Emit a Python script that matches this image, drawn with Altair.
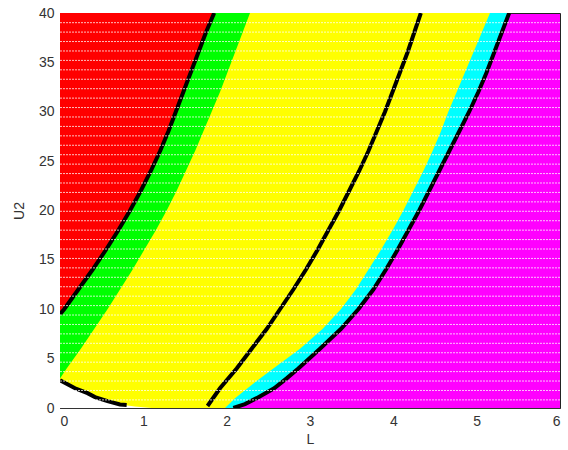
import altair as alt
import pandas as pd

# Boundary curves: L position at given U2
b1_y = [9.5, 10, 12, 14, 16, 18, 20, 22, 24, 26, 28, 30, 32, 34, 36, 38, 40]
b1_x = [0.0, 0.05, 0.22, 0.39, 0.55, 0.70, 0.84, 0.97, 1.09, 1.20, 1.30, 1.39, 1.48, 1.57, 1.66, 1.75, 1.85]

b2_y = [3, 4, 6, 8, 10, 12, 14, 16, 18, 20, 22, 24, 26, 28, 30, 32, 34, 36, 38, 40]
b2_x = [0.0, 0.08, 0.25, 0.41, 0.57, 0.72, 0.87, 1.01, 1.15, 1.28, 1.40, 1.51, 1.62, 1.72, 1.82, 1.92, 2.01, 2.10, 2.19, 2.28]

b3_y = [0.2, 2, 4, 6, 8, 10, 12, 14, 16, 18, 20, 22, 24, 26, 28, 30, 32, 34, 36, 38, 40]
b3_x = [1.77, 1.92, 2.12, 2.30, 2.48, 2.64, 2.80, 2.95, 3.09, 3.22, 3.35, 3.47, 3.59, 3.70, 3.80, 3.90, 3.99, 4.08, 4.17, 4.25, 4.33]

b4_y = [0, 1, 2, 3, 4, 6, 8, 10, 12, 14, 16, 18, 20, 22, 24, 26, 28, 30, 32, 34, 36, 38, 40]
b4_x = [1.98, 2.10, 2.25, 2.40, 2.56, 2.88, 3.15, 3.37, 3.55, 3.70, 3.85, 3.99, 4.12, 4.24, 4.36, 4.47, 4.57, 4.66, 4.76, 4.86, 4.96, 5.06, 5.16]

b5_y = [0, 0.4, 1, 2, 3, 4, 6, 8, 10, 12, 14, 16, 18, 20, 22, 24, 26, 28, 30, 32, 34, 36, 38, 40]
b5_x = [2.08, 2.22, 2.36, 2.57, 2.72, 2.86, 3.12, 3.37, 3.58, 3.76, 3.91, 4.05, 4.18, 4.31, 4.43, 4.55, 4.67, 4.79, 4.91, 5.02, 5.12, 5.21, 5.30, 5.39]

white_y = [0, 0.15, 0.35, 0.7, 1.1, 1.5, 2.0, 2.8]
white_x = [1.10, 0.90, 0.72, 0.57, 0.42, 0.33, 0.18, 0.0]

low_y = [2.8, 2.0, 1.5, 1.1, 0.7, 0.35, 0.3]
low_x = [0.0, 0.18, 0.33, 0.42, 0.57, 0.72, 0.80]

x_ticks = [0, 1, 2, 3, 4, 5, 6]
y_ticks = [0, 5, 10, 15, 20, 25, 30, 35, 40]

# marker-row gaps (texture of the sampled grid)
row_step = 0.955
row_gaps = [round(39.02 - row_step * k, 3) for k in range(41)]

FONT = "Liberation Sans"
xscale = alt.Scale(domain=[0, 6], nice=False, zero=False)
yscale = alt.Scale(domain=[0, 40], nice=False, zero=False)
xaxis = alt.Axis(values=x_ticks, format="d", grid=False, ticks=False, labelPadding=6,
                 titlePadding=4, domainColor="#333")
yaxis = alt.Axis(values=y_ticks, format="d", grid=False, ticks=False, labelPadding=6,
                 titlePadding=12, domainColor="#333")


def frame(ys, xs):
    return pd.DataFrame({"y": ys, "x": xs, "x0": [0.0] * len(ys), "i": list(range(len(ys)))})


def X():
    return alt.X("x:Q", scale=xscale, axis=xaxis, title="L")


def Y():
    return alt.Y("y:Q", scale=yscale, axis=yaxis, title="U2")


def region(ys, xs, color):
    return alt.Chart(frame(ys, xs)).mark_area(orient="horizontal", color=color, clip=True).encode(
        y=Y(), x=X(), x2="x0:Q")


def curve(ys, xs):
    return alt.Chart(frame(ys, xs)).mark_line(color="black", strokeWidth=4, clip=True).encode(
        y=Y(), x=X(), order="i:Q")


cyan = region(b5_y, b5_x, "#00FFFF")
yellow = region(b4_y, b4_x, "#FFFF00")
green = region(b2_y, b2_x, "#00FF00")
red = region(b1_y, b1_x, "#FF0000")
white = region(white_y, white_x, "#FFFFFF")

gaps = alt.Chart(pd.DataFrame({"y": row_gaps})).mark_rule(
    color="white", strokeWidth=1, strokeDash=[2, 1], opacity=0.75, clip=True
).encode(y=Y(), x=alt.value(0), x2=alt.value(500))

chart = alt.layer(
    cyan, yellow, green, red, white,
    curve(b1_y, b1_x), curve(b3_y, b3_x), curve(b5_y, b5_x), curve(low_y, low_x),
    gaps,
).properties(
    width=500, height=395,
    autosize=alt.AutoSizeParams(type="none"),
    padding={"left": 60, "top": 13, "right": 8, "bottom": 42},
).configure_view(
    fill="#FF00FF", stroke="#222", strokeWidth=1
).configure_axis(
    labelFont=FONT, titleFont=FONT, labelFontSize=14, titleFontSize=14,
    titleFontWeight="normal", labelColor="#333", titleColor="#333",
)

chart.save("out.html", embed_options={"renderer": "svg", "actions": False})
